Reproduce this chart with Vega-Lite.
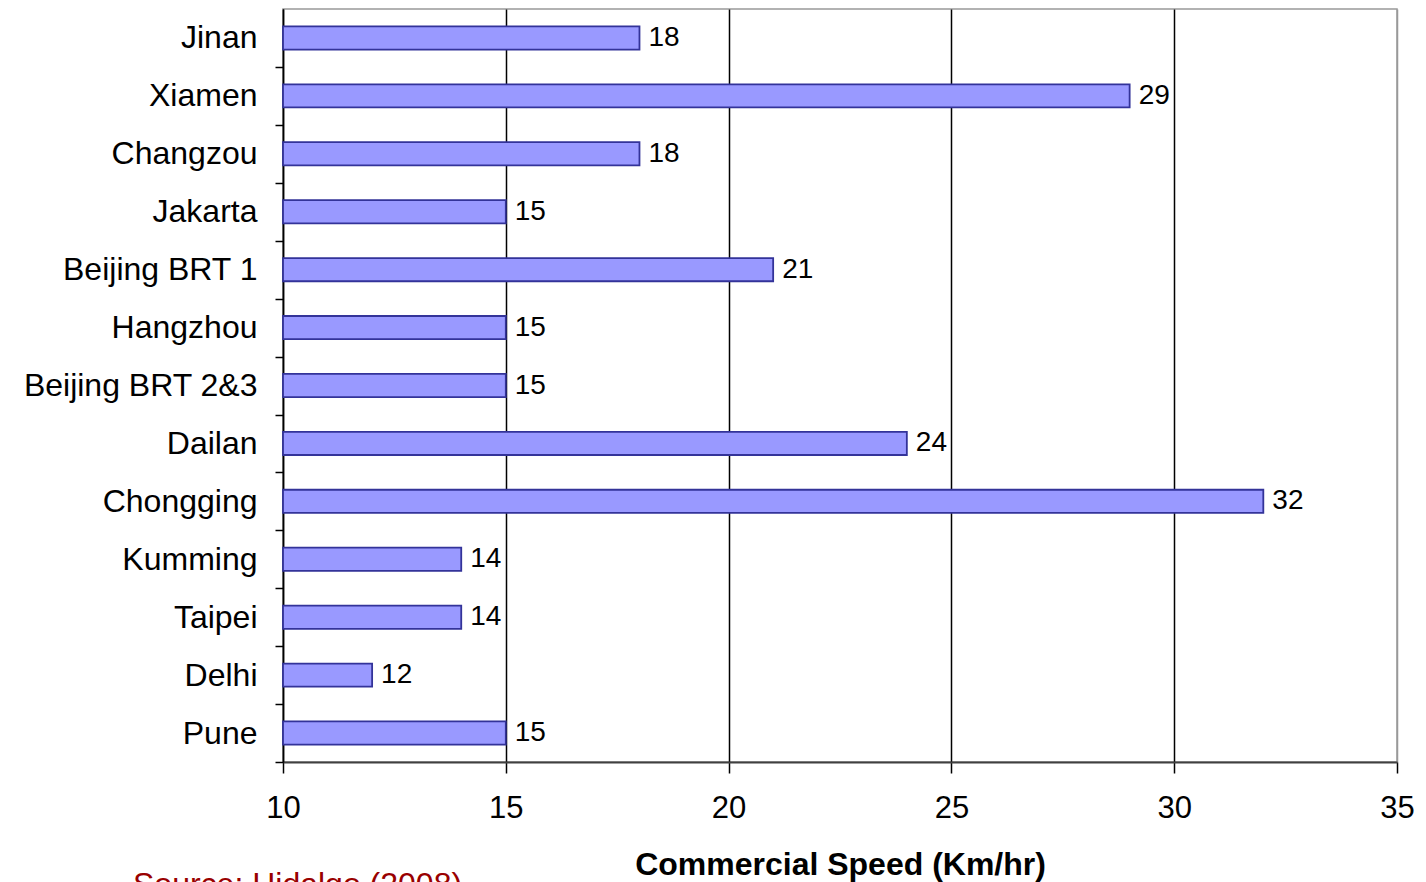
{
  "$schema": "https://vega.github.io/schema/vega-lite/v6.json",
  "width": 1114,
  "height": 753,
  "autosize": {"type": "none"},
  "padding": {"left": 283, "top": 9, "right": 29, "bottom": 120},
  "background": "white",
  "config": {
    "font": "Liberation Sans",
    "view": {"stroke": "#999999", "strokeWidth": 1.5}
  },
  "title": {
    "text": "Source: Hidalgo (2008)",
    "orient": "bottom",
    "anchor": "start",
    "frame": "group",
    "dx": -150,
    "offset": -10,
    "fontSize": 32,
    "fontWeight": "normal",
    "color": "#990000",
    "font": "Liberation Sans"
  },
  "data": {
    "values": [
      {"city": "Jinan", "speed": 18},
      {"city": "Xiamen", "speed": 29},
      {"city": "Changzou", "speed": 18},
      {"city": "Jakarta", "speed": 15},
      {"city": "Beijing BRT 1", "speed": 21},
      {"city": "Hangzhou", "speed": 15},
      {"city": "Beijing BRT 2&3", "speed": 15},
      {"city": "Dailan", "speed": 24},
      {"city": "Chongging", "speed": 32},
      {"city": "Kumming", "speed": 14},
      {"city": "Taipei", "speed": 14},
      {"city": "Delhi", "speed": 12},
      {"city": "Pune", "speed": 15}
    ]
  },
  "encoding": {
    "y": {
      "field": "city",
      "type": "nominal",
      "sort": null,
      "scale": {"paddingInner": 0.6, "paddingOuter": 0.3},
      "axis": {
        "title": null,
        "tickOffset": 29,
        "labelOffset": -29,
        "tickSize": 8,
        "tickColor": "black",
        "tickWidth": 1.5,
        "domainColor": "black",
        "domainWidth": 1.5,
        "labelFontSize": 32,
        "labelColor": "black",
        "labelPadding": 18,
        "labelLimit": 0,
        "labelFont": "Liberation Sans"
      }
    }
  },
  "layer": [
    {
      "mark": {"type": "bar", "fill": "#9999FF", "stroke": "#333399", "strokeWidth": 1.8},
      "encoding": {
        "x": {
          "field": "speed",
          "type": "quantitative",
          "scale": {"domain": [10, 35], "nice": false, "zero": false},
          "axis": {
            "title": "Commercial Speed (Km/hr)",
            "titleFontSize": 32,
            "titleFontWeight": "bold",
            "titleColor": "black",
            "titleFont": "Liberation Sans",
            "titlePadding": 26,
            "values": [10, 15, 20, 25, 30, 35],
            "grid": true,
            "gridColor": {"condition": {"test": "datum.value === 35", "value": "#999999"}, "value": "black"},
            "gridWidth": 1.5,
            "tickSize": 11,
            "tickColor": "black",
            "tickWidth": 1.5,
            "domainColor": "#404040",
            "domainWidth": 2,
            "labelFontSize": 31,
            "labelColor": "black",
            "labelPadding": 20,
            "labelFont": "Liberation Sans",
            "labelFlush": false
          }
        },
        "x2": {"datum": 10}
      }
    },
    {
      "mark": {"type": "text", "align": "left", "baseline": "middle", "dx": 9, "dy": 0, "fontSize": 28, "color": "black", "font": "Liberation Sans"},
      "encoding": {
        "x": {"field": "speed", "type": "quantitative"},
        "text": {"field": "speed", "type": "quantitative"}
      }
    }
  ]
}
